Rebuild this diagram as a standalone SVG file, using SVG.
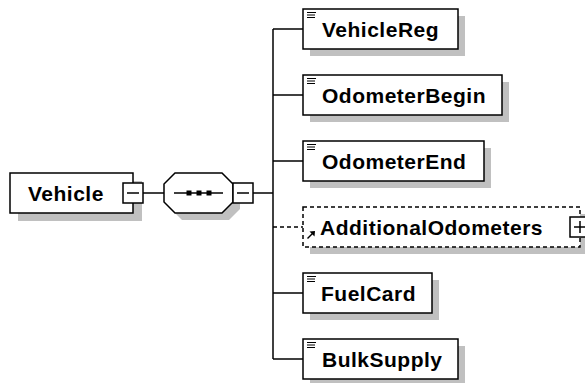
<svg xmlns="http://www.w3.org/2000/svg" width="585" height="383" viewBox="0 0 585 383">
<style>
.box{fill:#fff;stroke:#000;stroke-width:1.5}
.dbox{fill:#fff;stroke:#000;stroke-width:1.5;stroke-dasharray:4 3}
.shadow{fill:#c0c0c0}
.lbl{font-family:"Liberation Sans",Arial,sans-serif;font-weight:bold;font-size:21px;letter-spacing:0.5px;fill:#000}
.conn{stroke:#000;stroke-width:1.5;fill:none}
.dash{stroke-dasharray:4 3}
.icon{stroke:#000;stroke-width:1;fill:none}
.sym{stroke:#000;stroke-width:1.5;fill:none}
</style>
<rect width="585" height="383" fill="#fff"/>

<g id="connectors">
  <line class="conn" x1="143" y1="193" x2="164" y2="193"/>
  <line class="conn" x1="253" y1="193" x2="273" y2="193"/>
  <line class="conn" x1="273" y1="29" x2="273" y2="359"/>
  <line class="conn" x1="273" y1="29" x2="303" y2="29"/>
  <line class="conn" x1="273" y1="95" x2="303" y2="95"/>
  <line class="conn" x1="273" y1="161" x2="303" y2="161"/>
  <line class="conn dash" x1="273" y1="227" x2="303" y2="227"/>
  <line class="conn" x1="273" y1="293" x2="303" y2="293"/>
  <line class="conn" x1="273" y1="359" x2="303" y2="359"/>
</g>

<g id="Vehicle">
  <rect class="shadow" x="18" y="181" width="124" height="40"/>
  <rect class="box" x="10" y="173" width="123" height="40"/>
  <text class="lbl" x="28" y="200.5">Vehicle</text>
  <rect class="box" x="123" y="183" width="20" height="20"/>
  <line class="sym" x1="127" y1="193" x2="139" y2="193"/>
</g>

<g id="sequence">
  <polygon class="shadow" points="182,180 229,180 240,191 240,209 229,220 182,220 171,209 171,191"/>
  <polygon class="box" points="175,173 222,173 233,184 233,202 222,213 175,213 164,202 164,184"/>
  <line class="sym" x1="174" y1="193" x2="223" y2="193"/>
  <rect x="186.5" y="190.5" width="5" height="5" fill="#000"/>
  <rect x="196.5" y="190.5" width="5" height="5" fill="#000"/>
  <rect x="206.5" y="190.5" width="5" height="5" fill="#000"/>
  <rect class="box" x="233" y="183" width="20" height="20"/>
  <line class="sym" x1="237" y1="193" x2="249" y2="193"/>
</g>

<g id="VehicleReg">
  <rect class="shadow" x="310" y="16" width="155" height="40"/>
  <rect class="box" x="303" y="9" width="155" height="40"/>
  <path class="icon" d="M307 12.5H316M307 15H315M307 17.5H315"/>
  <text class="lbl" x="322" y="36.5">VehicleReg</text>
</g>

<g id="OdometerBegin">
  <rect class="shadow" x="310" y="82" width="199" height="40"/>
  <rect class="box" x="303" y="75" width="199" height="40"/>
  <path class="icon" d="M307 78.5H316M307 81H315M307 83.5H315"/>
  <text class="lbl" x="322" y="102.5">OdometerBegin</text>
</g>

<g id="OdometerEnd">
  <rect class="shadow" x="310" y="148" width="181" height="40"/>
  <rect class="box" x="303" y="141" width="181" height="40"/>
  <path class="icon" d="M307 144.5H316M307 147H315M307 149.5H315"/>
  <text class="lbl" x="322" y="168.5">OdometerEnd</text>
</g>

<g id="AdditionalOdometers">
  <rect class="shadow" x="310" y="214" width="277" height="40"/>
  <rect class="dbox" x="303" y="207" width="277" height="40"/>
  <path class="sym" d="M307.5 238.5L313 233"/>
  <polygon points="315,231 309.5,231.5 314.5,236.5" fill="#000"/>
  <text class="lbl" x="320" y="234.5">AdditionalOdometers</text>
  <rect class="box" x="570" y="217" width="20" height="20"/>
  <line class="sym" x1="574" y1="227" x2="586" y2="227"/>
  <line class="sym" x1="580" y1="221" x2="580" y2="233"/>
</g>

<g id="FuelCard">
  <rect class="shadow" x="310" y="280" width="129" height="40"/>
  <rect class="box" x="303" y="273" width="129" height="40"/>
  <path class="icon" d="M307 276.5H316M307 279H315M307 281.5H315"/>
  <text class="lbl" x="321" y="300.5">FuelCard</text>
</g>

<g id="BulkSupply">
  <rect class="shadow" x="310" y="346" width="155" height="40"/>
  <rect class="box" x="303" y="339" width="155" height="40"/>
  <path class="icon" d="M307 342.5H316M307 345H315M307 347.5H315"/>
  <text class="lbl" x="322" y="366.5">BulkSupply</text>
</g>
</svg>
